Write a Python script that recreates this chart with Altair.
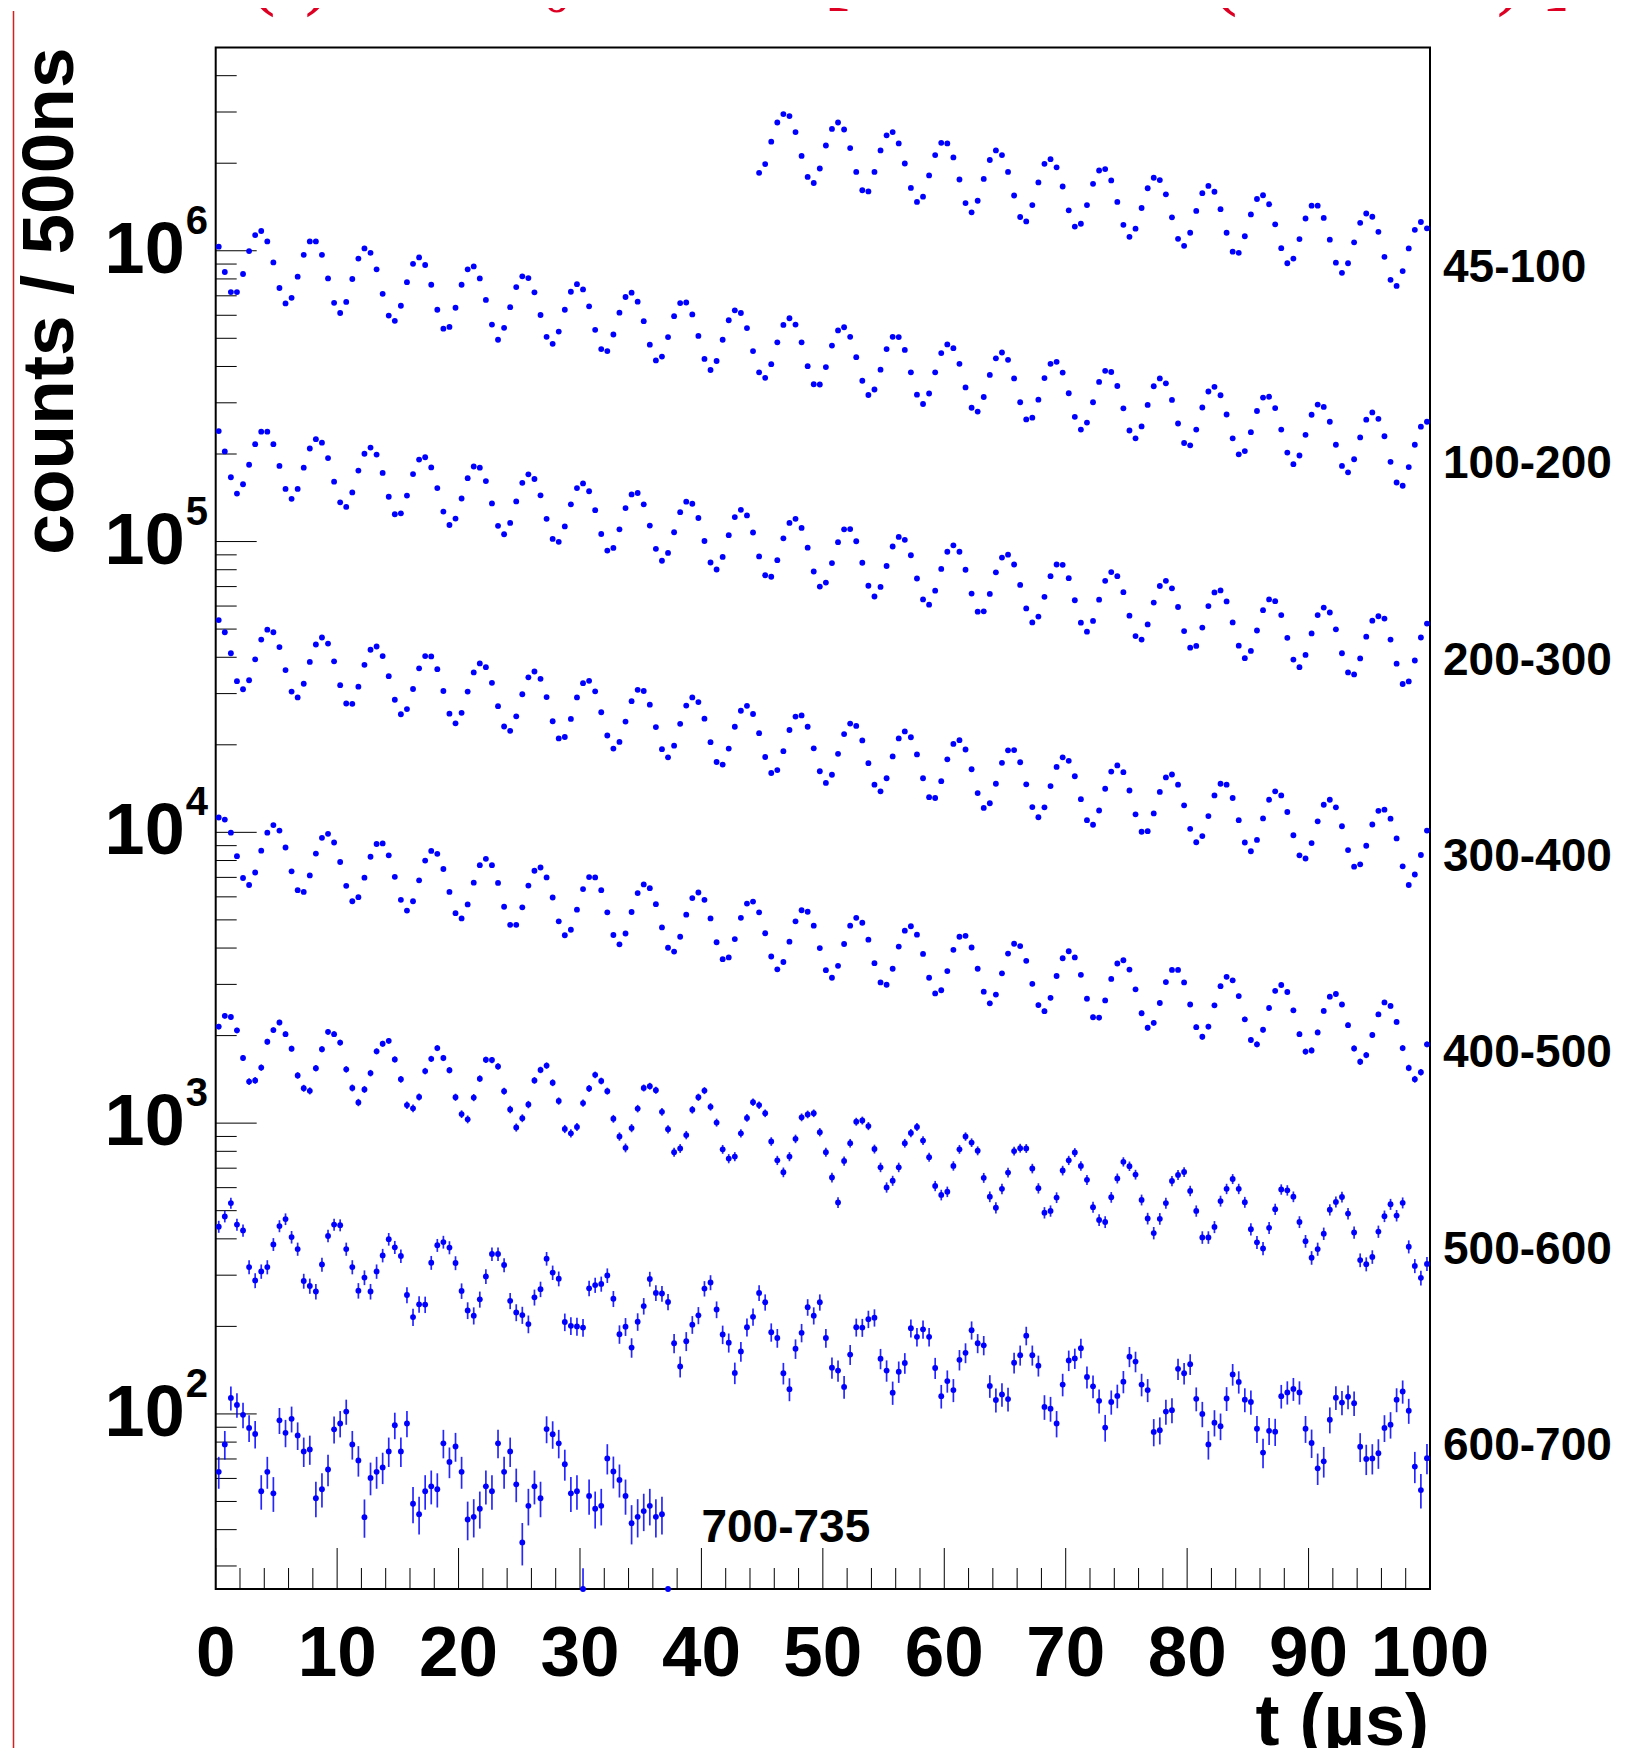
import numpy as np
import pandas as pd
import altair as alt

BIN_WIDTH = 0.5  # us per bin

# log10(counts / 500ns), one value per 0.5 us bin.
# Each series: first bin centre (us) and its values.
S_45_100_T0 = 44.75
S_45_100 = [
    6.268, 6.298, 6.375, 6.441, 6.470, 6.463, 6.408, 6.326, 6.254, 6.233,
    6.283, 6.362, 6.419, 6.441, 6.417, 6.353, 6.271, 6.208, 6.204, 6.271,
    6.345, 6.397, 6.408, 6.369, 6.300, 6.216, 6.168, 6.186, 6.259, 6.329,
    6.371, 6.369, 6.321, 6.245, 6.164, 6.132, 6.172, 6.247, 6.312, 6.345,
    6.329, 6.271, 6.190, 6.116, 6.101, 6.157, 6.235,
    6.299, 6.315, 6.287, 6.221, 6.139, 6.083, 6.093, 6.157, 6.230, 6.276,
    6.281, 6.242, 6.168, 6.089, 6.048, 6.076, 6.147, 6.215, 6.251, 6.243,
    6.194, 6.115, 6.041, 6.017, 6.062, 6.137, 6.198, 6.223, 6.203, 6.143,
    6.062, 5.997, 5.993, 6.050, 6.125, 6.178, 6.191, 6.160, 6.091, 6.009,
    5.957, 5.973, 6.040, 6.111, 6.155, 6.155, 6.113, 6.038, 5.959, 5.924,
    5.957, 6.029, 6.096, 6.128, 6.117,
    6.065, 5.979, 5.900, 5.879, 5.930, 6.008, 6.072, 6.099, 6.077,
]
S_100_200 = [
    6.014, 5.927, 5.858, 5.858, 5.920, 5.999, 6.054, 6.068, 6.032, 5.960,
    5.872, 5.819, 5.838, 5.911, 5.986, 6.032, 6.032, 5.986, 5.905, 5.821,
    5.786, 5.824, 5.903, 5.973, 6.008, 5.993, 5.936, 5.852, 5.777, 5.759,
    5.811, 5.892, 5.955, 5.977, 5.951, 5.883, 5.797, 5.732, 5.738, 5.804,
    5.883, 5.936, 5.946, 5.905, 5.831, 5.746, 5.694,
    5.735, 5.806, 5.875, 5.912, 5.906, 5.857, 5.779, 5.704, 5.680, 5.722,
    5.797, 5.859, 5.885, 5.867, 5.809, 5.728, 5.662, 5.655, 5.712, 5.787,
    5.841, 5.856, 5.825, 5.758, 5.677, 5.623, 5.636, 5.703, 5.775, 5.820,
    5.822, 5.781, 5.707, 5.628, 5.590, 5.621, 5.694, 5.761, 5.795, 5.786,
    5.734, 5.655, 5.582, 5.563, 5.610, 5.685, 5.745, 5.768, 5.746, 5.685,
    5.603, 5.541, 5.540, 5.600, 5.674, 5.726, 5.737, 5.704, 5.634, 5.553,
    5.504, 5.523, 5.591, 5.662, 5.704, 5.703, 5.659, 5.582, 5.505, 5.473,
    5.509, 5.582, 5.648, 5.678, 5.665, 5.611, 5.530, 5.460, 5.447, 5.497,
    5.573, 5.630, 5.650, 5.625, 5.561, 5.479, 5.420, 5.426, 5.488, 5.562,
    5.611, 5.618, 5.581, 5.510, 5.429, 5.385, 5.409, 5.479, 5.549, 5.587,
    5.583, 5.535, 5.458, 5.382, 5.355, 5.396, 5.470, 5.534, 5.561, 5.544,
    5.487, 5.406, 5.339, 5.331, 5.385, 5.461, 5.516, 5.532, 5.503, 5.437,
    5.355, 5.300, 5.311, 5.376, 5.449, 5.495, 5.498, 5.459, 5.385, 5.306,
    5.266, 5.296, 5.367, 5.436, 5.471, 5.463, 5.412, 5.333, 5.260, 5.238,
    5.283, 5.358, 5.419, 5.444,
    5.422, 5.362, 5.274, 5.203, 5.192, 5.256, 5.333, 5.395, 5.412,
]
S_200_300 = [
    5.380, 5.310, 5.221, 5.165, 5.197, 5.264, 5.335, 5.378, 5.378, 5.335,
    5.260, 5.181, 5.147, 5.181, 5.254, 5.320, 5.352, 5.340, 5.287, 5.206,
    5.135, 5.119, 5.169, 5.244, 5.302, 5.323, 5.299, 5.236, 5.154, 5.094,
    5.097, 5.158, 5.232, 5.282, 5.290, 5.255, 5.184, 5.103, 5.057, 5.079,
    5.148, 5.218, 5.258, 5.254, 5.208, 5.131, 5.054, 5.025, 5.064, 5.138,
    5.202, 5.231, 5.215, 5.159, 5.078, 5.009, 4.999, 5.052, 5.128, 5.184,
    5.200, 5.173, 5.108, 5.026, 4.969, 4.978, 5.042, 5.115, 5.162, 5.167,
    5.128, 5.055, 4.975, 4.934, 4.961, 5.032, 5.101, 5.137, 5.130, 5.081,
    5.002, 4.928, 4.904, 4.947, 5.022, 5.084, 5.109, 5.090, 5.031, 4.949,
    4.884, 4.879, 4.936, 5.011, 5.064, 5.078, 5.047, 4.979, 4.897, 4.845,
    4.859, 4.926, 4.998, 5.042, 5.043, 5.001, 4.927, 4.848, 4.811, 4.844,
    4.916, 4.983, 5.016, 5.006, 4.953, 4.873, 4.801, 4.783, 4.831, 4.906,
    4.965, 4.987, 4.965, 4.903, 4.821, 4.759, 4.760, 4.820, 4.894, 4.945,
    4.955, 4.921, 4.851, 4.770, 4.722, 4.742, 4.810, 4.881, 4.921, 4.920,
    4.874, 4.798, 4.721, 4.690, 4.727, 4.800, 4.865, 4.895, 4.881, 4.826,
    4.745, 4.675, 4.663, 4.715, 4.790, 4.847, 4.865, 4.839, 4.775, 4.692,
    4.635, 4.641, 4.704, 4.778, 4.825, 4.832, 4.794, 4.722, 4.642, 4.599,
    4.624, 4.694, 4.764, 4.801, 4.795, 4.747, 4.669, 4.594, 4.568, 4.610,
    4.684, 4.747, 4.773, 4.756, 4.698, 4.616, 4.550, 4.543, 4.598, 4.673,
    4.728, 4.743, 4.735, 4.663, 4.580, 4.510, 4.519, 4.591, 4.670, 4.718,
]
S_300_400 = [
    4.730, 4.688, 4.616, 4.520, 4.492, 4.523, 4.595, 4.663, 4.697, 4.688,
    4.637, 4.558, 4.484, 4.464, 4.511, 4.586, 4.646, 4.670, 4.649, 4.588,
    4.506, 4.443, 4.442, 4.501, 4.576, 4.628, 4.639, 4.606, 4.537, 4.456,
    4.406, 4.424, 4.493, 4.564, 4.606, 4.605, 4.561, 4.486, 4.408, 4.375,
    4.411, 4.484, 4.550, 4.581, 4.568, 4.514, 4.434, 4.364, 4.349, 4.399,
    4.475, 4.533, 4.553, 4.528, 4.465, 4.382, 4.323, 4.328, 4.390, 4.464,
    4.513, 4.521, 4.485, 4.413, 4.333, 4.288, 4.311, 4.381, 4.451, 4.490,
    4.486, 4.439, 4.362, 4.286, 4.258, 4.298, 4.373, 4.436, 4.464, 4.448,
    4.391, 4.310, 4.242, 4.233, 4.288, 4.363, 4.418, 4.435, 4.407, 4.341,
    4.259, 4.204, 4.214, 4.279, 4.352, 4.398, 4.402, 4.363, 4.289, 4.210,
    4.170, 4.198, 4.270, 4.338, 4.374, 4.366, 4.316, 4.238, 4.164, 4.141,
    4.186, 4.261, 4.323, 4.347, 4.327, 4.268, 4.186, 4.121, 4.118, 4.176,
    4.251, 4.304, 4.317, 4.285, 4.217, 4.135, 4.084, 4.100, 4.167, 4.239,
    4.282, 4.283, 4.241, 4.165, 4.087, 4.052, 4.086, 4.159, 4.225, 4.258,
    4.246, 4.193, 4.114, 4.042, 4.026, 4.075, 4.150, 4.209, 4.230, 4.207,
    4.144, 4.062, 4.002, 4.004, 4.065, 4.139, 4.189, 4.199, 4.164, 4.093,
    4.012, 3.966, 3.987, 4.056, 4.127, 4.167, 4.164, 4.118, 4.042, 3.965,
    3.935, 3.974, 4.048, 4.112, 4.141, 4.127, 4.070, 3.990, 3.921, 3.910,
    3.963, 4.038, 4.095, 4.112, 4.086, 4.021, 3.939, 3.882, 3.890, 3.954,
    4.027, 4.074, 4.078, 4.047, 3.979, 3.883, 3.819, 3.855, 3.922, 4.006,
]
S_400_500 = [
    4.051, 4.044, 3.999, 3.918, 3.843, 3.819, 3.862, 3.937, 3.999, 4.025,
    4.006, 3.948, 3.866, 3.801, 3.795, 3.852, 3.927, 3.981, 3.995, 3.965,
    3.898, 3.816, 3.763, 3.777, 3.844, 3.916, 3.960, 3.962, 3.921, 3.847,
    3.768, 3.731, 3.763, 3.835, 3.903, 3.936, 3.926, 3.874, 3.795, 3.722,
    3.704, 3.752, 3.827, 3.887, 3.909, 3.887, 3.826, 3.744, 3.682, 3.682,
    3.742, 3.817, 3.868, 3.879, 3.845, 3.776, 3.694, 3.646, 3.665, 3.734,
    3.805, 3.846, 3.845, 3.801, 3.725, 3.647, 3.615, 3.652, 3.726, 3.791,
    3.821, 3.808, 3.753, 3.673, 3.603, 3.590, 3.641, 3.717, 3.774, 3.793,
    3.768, 3.704, 3.622, 3.564, 3.570, 3.633, 3.706, 3.755, 3.762, 3.725,
    3.653, 3.573, 3.529, 3.554, 3.624, 3.694, 3.732, 3.727, 3.679, 3.602,
    3.526, 3.500, 3.541, 3.616, 3.679, 3.706, 3.689, 3.631, 3.550, 3.484,
    3.476, 3.531, 3.607, 3.662, 3.677, 3.648, 3.582, 3.500, 3.446, 3.457,
    3.523, 3.596, 3.641, 3.644, 3.604, 3.531, 3.452, 3.412, 3.442, 3.515,
    3.583, 3.617, 3.609, 3.558, 3.479, 3.406, 3.385, 3.431, 3.506, 3.567,
    3.591, 3.570, 3.510, 3.428, 3.364, 3.363, 3.422, 3.496, 3.549, 3.560,
    3.528, 3.460, 3.378, 3.328, 3.345, 3.413, 3.485, 3.527, 3.527, 3.484,
    3.408, 3.330, 3.297, 3.332, 3.405, 3.471, 3.503, 3.491, 3.437, 3.357,
    3.286, 3.271, 3.321, 3.396, 3.455, 3.475, 3.451, 3.388, 3.306, 3.246,
    3.250, 3.312, 3.386, 3.435, 3.444, 3.408, 3.337, 3.257, 3.211, 3.234,
    3.303, 3.374, 3.415, 3.403, 3.348, 3.258, 3.190, 3.151, 3.175, 3.271,
]
S_500_600 = [
    3.332, 3.369, 3.365, 3.319, 3.224, 3.143, 3.147, 3.191, 3.280, 3.320,
    3.346, 3.306, 3.256, 3.164, 3.120, 3.111, 3.189, 3.254, 3.314, 3.306,
    3.277, 3.185, 3.121, 3.071, 3.116, 3.172, 3.247, 3.273, 3.283, 3.219,
    3.151, 3.062, 3.051, 3.090, 3.179, 3.221, 3.258, 3.224, 3.182, 3.089,
    3.031, 3.013, 3.088, 3.153, 3.218, 3.217, 3.195, 3.110, 3.047, 2.985,
    3.017, 3.064, 3.147, 3.183, 3.198, 3.139, 3.076, 2.980, 2.965, 2.987,
    3.069, 3.119, 3.166, 3.145, 3.110, 3.015, 2.954, 2.915, 2.983, 3.050,
    3.121, 3.127, 3.113, 3.039, 2.979, 2.900, 2.913, 2.959, 3.046, 3.089,
    3.112, 3.056, 3.002, 2.910, 2.878, 2.885, 2.965, 3.018, 3.072, 3.062,
    3.034, 2.937, 2.872, 2.831, 2.885, 2.946, 3.020, 3.030, 3.034, 2.969,
    2.900, 2.813, 2.727, 2.870, 2.931, 3.005, 3.009, 2.990, 2.911, 2.848,
    2.779, 2.802, 2.848, 2.931, 2.966, 2.987, 2.940, 2.883, 2.784, 2.753,
    2.764, 2.853, 2.910, 2.954, 2.933, 2.905, 2.812, 2.747, 2.709, 2.774,
    2.830, 2.904, 2.914, 2.913, 2.844, 2.776, 2.692, 2.698, 2.744, 2.837,
    2.872, 2.899, 2.853, 2.805, 2.711, 2.667, 2.660, 2.745, 2.810, 2.867,
    2.852, 2.823, 2.736, 2.672, 2.622, 2.671, 2.725, 2.801, 2.822, 2.832,
    2.767, 2.698, 2.607, 2.607, 2.643, 2.732, 2.774, 2.808, 2.774, 2.728,
    2.635, 2.590, 2.569, 2.640, 2.704, 2.772, 2.769, 2.747, 2.660, 2.594,
    2.537, 2.567, 2.620, 2.702, 2.729, 2.746, 2.689, 2.624, 2.529, 2.515,
    2.540, 2.627, 2.680, 2.721, 2.682, 2.726, 2.575, 2.509, 2.468, 2.516,
]
S_600_700 = [
    2.644, 2.679, 2.725, 2.651, 2.631, 2.505, 2.459, 2.490, 2.505, 2.583,
    2.646, 2.670, 2.608, 2.567, 2.457, 2.440, 2.421, 2.514, 2.612, 2.651,
    2.649, 2.567, 2.505, 2.424, 2.469, 2.421, 2.490, 2.545, 2.601, 2.573,
    2.543, 2.409, 2.333, 2.377, 2.376, 2.520, 2.580, 2.591, 2.572, 2.519,
    2.423, 2.356, 2.338, 2.394, 2.473, 2.550, 2.550,
    2.512, 2.389, 2.349, 2.340, 2.309, 2.401, 2.429, 2.534, 2.486, 2.465,
    2.316, 2.303, 2.301, 2.297, 2.432, 2.443, 2.447, 2.476, 2.396, 2.274,
    2.300, 2.228, 2.317, 2.371, 2.464, 2.416, 2.414, 2.385, 2.243, 2.163,
    2.250, 2.307, 2.339, 2.431, 2.452, 2.359, 2.273, 2.245, 2.141, 2.215,
    2.298, 2.334, 2.416, 2.384, 2.281, 2.261, 2.140, 2.085, 2.224, 2.279,
    2.367, 2.338, 2.384, 2.261, 2.159, 2.149, 2.093, 2.204, 2.298, 2.297,
    2.326, 2.331, 2.190, 2.149, 2.073, 2.145, 2.175, 2.295, 2.265, 2.291,
    2.265, 2.158, 2.061, 2.113, 2.082, 2.186, 2.210, 2.288, 2.243, 2.236,
    2.096, 2.048, 2.067, 2.051, 2.176, 2.202, 2.269, 2.202, 2.166, 2.024,
    2.018, 1.967, 2.101, 2.184, 2.191, 2.226, 2.127, 2.095, 2.045, 1.953,
    2.041, 2.062, 2.111, 2.197, 2.180, 2.101, 2.082, 1.938, 1.944, 2.008,
    2.013, 2.155, 2.140, 2.171, 2.052, 2.000, 1.895, 1.970, 1.958, 2.053,
    2.136, 2.110, 2.049, 2.041, 1.949, 1.867, 1.942, 1.939, 2.061, 2.074,
    2.086, 2.074, 1.949, 1.900, 1.813, 1.837, 1.980, 2.056, 2.039, 2.059,
    2.037, 1.887, 1.845, 1.847, 1.865,
    1.952, 1.963, 2.049, 2.077, 2.011, 1.819, 1.738, 1.848,
]
S_700_735 = [
    1.801, 1.895, 2.055, 2.031, 1.997, 1.952, 1.931, 1.734, 1.801, 1.727,
    1.978, 1.935, 1.983, 1.926, 1.871, 1.878, 1.710, 1.741, 1.809, 1.947,
    1.967, 2.008, 1.895, 1.840, 1.645, 1.780, 1.801, 1.816, 1.871, 1.961,
    1.871, 1.967, 1.691, 1.655, 1.734, 1.751, 1.741, 1.899, 1.835, 1.888,
    1.801, 1.637, 1.646, 1.674, 1.751, 1.734, 1.899, 1.801, 1.871, 1.758,
    1.558, 1.684, 1.751, 1.710, 1.948, 1.930, 1.899, 1.827, 1.727, 1.734,
    1.389, 1.718, 1.674, 1.684, 1.847, 1.802, 1.773, 1.718, 1.624, 1.646,
    1.666, 1.684, 1.646, 1.655, 1.000,
]

SERIES_NAMES = ["45-100", "100-200", "200-300", "300-400", "400-500",
                "500-600", "600-700", "700-735"]
SERIES_T0 = [S_45_100_T0, 0.25, 0.25, 0.25, 0.25, 0.25, 0.25, 0.25]
SERIES_DATA = [S_45_100, S_100_200, S_200_300, S_300_400, S_400_500,
               S_500_600, S_600_700, S_700_735]

# right-hand labels: anchor time (us) and log10 of the baseline value
LABEL_T = [101.07, 101.07, 101.07, 101.07, 101.07, 101.07, 101.07, 40.0]
LABEL_LOGY = [5.893, 5.218, 4.542, 3.867, 3.192, 2.517, 1.841, 1.558]

X_MAJOR = list(range(0, 101, 10))
X_MINOR = [v for v in range(2, 100, 2) if v % 10 != 0]
Y_MAJOR_EXP = [2, 3, 4, 5, 6]
Y_MINOR = [m * 10 ** k for k in range(1, 7) for m in range(2, 10) if 25 <= m * 10 ** k < 5e6]

X_DOMAIN = [0, 100]
Y_DOMAIN = [25, 5e6]

rows = []
for name, t0, vals in zip(SERIES_NAMES, SERIES_T0, SERIES_DATA):
    for i, lv in enumerate(vals):
        n = 10 ** lv
        e = np.sqrt(n)
        rows.append({"series": name, "t": t0 + BIN_WIDTH * i, "n": n,
                     "lo": max(n - e, 1e-3), "hi": n + e})
df = pd.DataFrame(rows)

W, H = 1214.3, 1541.5
FONT = "Liberation Sans"
BLUE = "#0000ff"
RED = "#dd0022"

xs = alt.Scale(domain=X_DOMAIN, nice=False, zero=False)
ys = alt.Scale(type="log", domain=Y_DOMAIN, nice=False, clamp=True)


def X(f):
    return alt.X(f, type="quantitative", scale=xs, axis=None)


def Y(f):
    return alt.Y(f, type="quantitative", scale=ys, axis=None)


bars = alt.Chart(df).mark_rule(color=BLUE, strokeWidth=1.7, opacity=0.85).encode(
    x=X("t"), y=Y("lo"), y2="hi")
pts = alt.Chart(df).mark_circle(size=34, color=BLUE, opacity=1).encode(
    x=X("t"), y=Y("n"))

xmaj = alt.Chart(pd.DataFrame({"t": X_MAJOR})).mark_rule(color="black", strokeWidth=1).encode(
    x=X("t"), y=alt.value(H), y2=alt.value(H - 41))
xmin = alt.Chart(pd.DataFrame({"t": X_MINOR})).mark_rule(color="black", strokeWidth=1).encode(
    x=X("t"), y=alt.value(H), y2=alt.value(H - 21))
ymaj = alt.Chart(pd.DataFrame({"v": [10.0 ** e for e in Y_MAJOR_EXP]})).mark_rule(
    color="black", strokeWidth=1).encode(y=Y("v"), x=alt.value(0), x2=alt.value(41))
ymin = alt.Chart(pd.DataFrame({"v": Y_MINOR})).mark_rule(color="black", strokeWidth=1).encode(
    y=Y("v"), x=alt.value(0), x2=alt.value(21))

xlab = alt.Chart(pd.DataFrame({"t": X_MAJOR, "lab": [str(v) for v in X_MAJOR]})).mark_text(
    font=FONT, fontSize=71, fontWeight="bold", align="center", baseline="alphabetic",
    color="black").encode(x=X("t"), y=alt.value(H + 87), text="lab:N")

ydf = pd.DataFrame({"v": [10.0 ** e for e in Y_MAJOR_EXP],
                    "base": ["10"] * len(Y_MAJOR_EXP),
                    "exp": [str(e) for e in Y_MAJOR_EXP]})
ylab = alt.Chart(ydf).mark_text(
    font=FONT, fontSize=72, fontWeight="bold", align="right", baseline="alphabetic",
    dy=22, color="black").encode(x=alt.value(-31), y=Y("v"), text="base:N")
yexp = alt.Chart(ydf).mark_text(
    font=FONT, fontSize=40, fontWeight="bold", align="left", baseline="alphabetic",
    dy=-17, color="black").encode(x=alt.value(-30), y=Y("v"), text="exp:N")

ldf = pd.DataFrame({"t": LABEL_T, "v": [10 ** v for v in LABEL_LOGY], "lab": SERIES_NAMES})
rlab = alt.Chart(ldf).mark_text(
    font=FONT, fontSize=46, fontWeight="bold", align="left", baseline="alphabetic",
    color="black").encode(x=X("t"), y=Y("v"), text="lab:N")

ytitle = alt.Chart(pd.DataFrame({"s": ["counts / 500ns"]})).mark_text(
    font=FONT, fontSize=73, fontWeight="bold", angle=270, align="right",
    baseline="alphabetic", color="black").encode(
    x=alt.value(-143), y=alt.value(0), text="s:N")
xtitle = alt.Chart(pd.DataFrame({"s": ["t (\u00b5s)"]})).mark_text(
    font=FONT, fontSize=72, fontWeight="bold", align="right",
    baseline="alphabetic", color="black").encode(
    x=alt.value(W - 1), y=alt.value(H + 156), text="s:N")

red_line = alt.Chart(pd.DataFrame({"a": [0]})).mark_rule(color="#d42020", strokeWidth=1.5).encode(
    x=alt.value(-202.2), y=alt.value(-36.5), y2=alt.value(H + 170))

# lower edges of a red formula cut off by the top of the page
FORMULA_GLYPHS = ["(", ")", "[", "(", "\u03c9", ")", "]"]
FORMULA_X = [33, 89, 608, 995, 1074, 1281, 1329]
formula = alt.Chart(pd.DataFrame({"s": FORMULA_GLYPHS, "x": FORMULA_X})).mark_text(
    font="Liberation Serif", fontSize=80, align="left", baseline="alphabetic",
    color=RED).encode(x=alt.X("x:Q", scale=None), y=alt.value(-47.5), text="s:N")
formula_sub = alt.Chart(pd.DataFrame({"s": ["0"], "x": [327]})).mark_text(
    font="Liberation Serif", fontSize=56, align="left", baseline="alphabetic",
    color=RED).encode(x=alt.X("x:Q", scale=None), y=alt.value(-35.5), text="s:N")

chart = alt.layer(
    red_line, formula, formula_sub,
    xmin, xmaj, ymin, ymaj,
    bars, pts,
    xlab, ylab, yexp, rlab, ytitle, xtitle,
).properties(
    width=W, height=H,
    background="white",
    autosize=alt.AutoSizeParams(type="none"),
    padding={"left": 207.7, "top": 39.5, "right": 189, "bottom": 159},
).configure_view(stroke="black", strokeWidth=2)

chart.save("out.html", embed_options={"renderer": "svg", "actions": False})
